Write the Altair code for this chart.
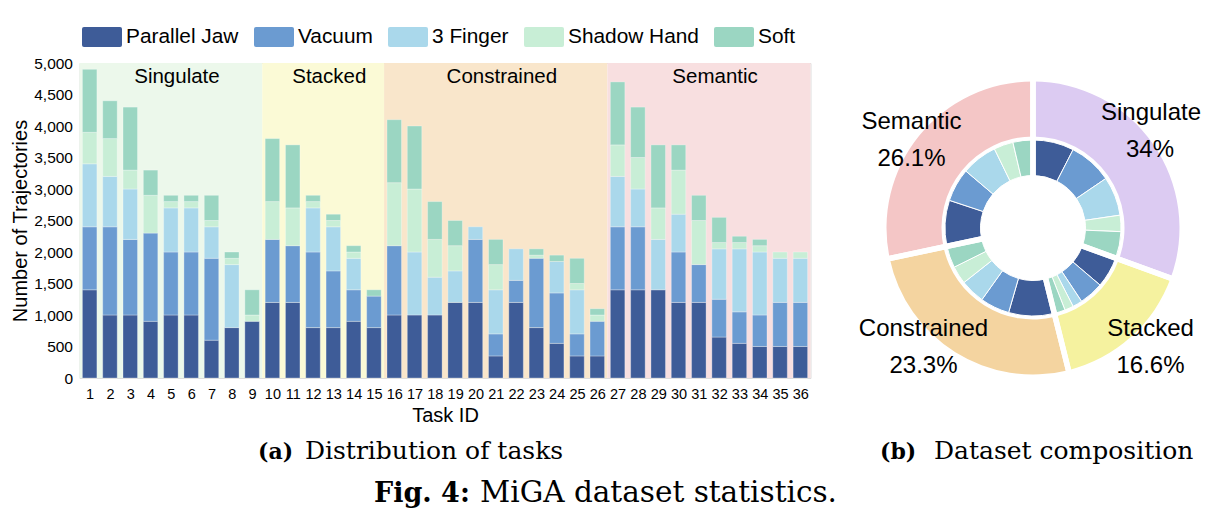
import math
import altair as alt
import pandas as pd

SANS = "Liberation Sans"
SERIF = "DejaVu Serif"

# ---------------- data ----------------
tasks = list(range(1, 37))
grippers = ["Parallel Jaw", "Vacuum", "3 Finger", "Shadow Hand", "Soft"]
gripper_colors = ["#3e5c98", "#6b9bd1", "#aad8eb", "#c8eed6", "#9bd6c2"]

parallel_jaw = [1400, 1000, 1000, 900, 1000, 1000, 600, 800, 900,
                1200, 1200, 800, 800, 900, 800,
                1000, 1000, 1000, 1200, 1200, 350, 1200, 800, 550, 350, 350,
                1400, 1400, 1400, 1200, 1200, 650, 550, 500, 500, 500]
vacuum = [1000, 1400, 1200, 1400, 1000, 1000, 1300, 0, 0,
          1000, 900, 1200, 900, 500, 500,
          1100, 0, 0, 0, 1000, 350, 350, 1100, 800, 350, 550,
          1000, 1000, 0, 800, 600, 600, 500, 500, 700, 700]
three_finger = [1000, 800, 800, 0, 700, 700, 500, 1000, 0,
                0, 0, 700, 700, 500, 0,
                0, 1000, 600, 500, 200, 700, 500, 0, 500, 700, 0,
                800, 600, 800, 600, 0, 800, 1000, 1000, 700, 700]
shadow_hand = [500, 600, 300, 600, 100, 100, 100, 100, 100,
               600, 600, 100, 100, 100, 0,
               1000, 1000, 600, 400, 0, 400, 0, 50, 0, 100, 100,
               500, 500, 500, 700, 700, 100, 100, 100, 100, 100]
soft = [1000, 600, 1000, 400, 100, 100, 400, 100, 400,
        1000, 1000, 100, 100, 100, 100,
        1000, 1000, 600, 400, 0, 400, 0, 100, 100, 400, 100,
        1000, 800, 1000, 400, 400, 400, 100, 100, 0, 0]

categories = ["Singulate", "Stacked", "Constrained", "Semantic"]
category_first_task = [1, 10, 16, 27]
category_last_task = [9, 15, 26, 36]
category_band_colors = ["#ecf8eb", "#fbfad6", "#f9e6cb", "#f8dfe0"]
category_ring_colors = ["#dccbf2", "#f5f29f", "#f4d4a0", "#f4c6c6"]
category_share_labels = ["34%", "16.6%", "23.3%", "26.1%"]

# donut slices as drawn (degrees)
ring_outer_deg = [110, 56, 92, 102]
ring_inner_deg = [
    [27.1, 28.7, 25.8, 10.8, 17.6],   # Singulate
    [20.4, 16.1, 6.4, 5.8, 7.3],      # Stacked
    [30.1, 19.4, 16.2, 11.9, 14.4],   # Constrained
    [30.3, 22.0, 23.7, 12.8, 13.2],   # Semantic
]

# ---------------- tables ----------------
series = [parallel_jaw, vacuum, three_finger, shadow_hand, soft]
bar_rows = []
for gi, (g, vals) in enumerate(zip(grippers, series)):
    for t, v in zip(tasks, vals):
        bar_rows.append({"task": t, "gripper": g, "gi": gi, "value": v})
bars_df = pd.DataFrame(bar_rows)

cat_df = pd.DataFrame({
    "category": categories,
    "first": category_first_task,
    "last": category_last_task,
    "bg": category_band_colors,
})

outer_df = pd.DataFrame({
    "category": categories,
    "k": list(range(len(categories))),
    "deg": ring_outer_deg,
    "fill": category_ring_colors,
})

inner_rows = []
k = 0
for ci, c in enumerate(categories):
    for gi, g in enumerate(grippers):
        inner_rows.append({"category": c, "gripper": g, "k": k,
                           "deg": ring_inner_deg[ci][gi], "fill": gripper_colors[gi]})
        k += 1
inner_df = pd.DataFrame(inner_rows)

# ---------------- layout ----------------
LEFT, TOP = 79.5, 63
PLOT_W, PLOT_H = 731, 315
TOTAL_W, TOTAL_H = 1225, 520
CX, CY = 1033 - LEFT, 228 - TOP

x_scale = alt.Scale(domain=[0.5, 36.5], nice=False, zero=False, padding=0)
x_axis = alt.Axis(values=tasks, format="d", title="Task ID",
                  labelFont=SANS, labelFontSize=14.5, labelColor="black",
                  titleFont=SANS, titleFontSize=20, titleFontWeight="normal", titleColor="black",
                  ticks=False, domain=False, grid=False, labelPadding=9, titlePadding=5,
                  labelFlush=False, labelOverlap=False)
y_axis = alt.Axis(values=list(range(0, 5001, 500)), format=",d", title="Number of Trajectories",
                  labelFont=SANS, labelFontSize=15.5, labelColor="black",
                  titleFont=SANS, titleFontSize=20, titleFontWeight="normal", titleColor="black",
                  ticks=False, domain=False, grid=False, labelPadding=7, titlePadding=3,
                  labelFlush=False, labelOverlap=False)
y_scale = alt.Scale(domain=[0, 5000], nice=False, padding=0)
theta_scale = alt.Scale(domain=[0, 360])

RECT_PATH = ("M-0.9,-0.5H0.9Q1,-0.5 1,-0.4V0.4Q1,0.5 0.9,0.5H-0.9"
             "Q-1,0.5 -1,0.4V-0.4Q-1,-0.5 -0.9,-0.5Z")

background = alt.Chart(cat_df).transform_calculate(
    lo="datum.first - 0.5", hi="datum.last + 0.5"
).mark_rect().encode(
    x=alt.X("lo:Q", scale=x_scale, axis=x_axis),
    x2="hi:Q",
    y=alt.value(0),
    y2=alt.value(PLOT_H),
    fill=alt.Fill("bg:N", scale=None),
)

band_text = alt.Chart(cat_df).transform_calculate(
    mid="(datum.first + datum.last) / 2 + 0.3"
).mark_text(font=SANS, fontSize=20.5, baseline="middle", color="black").encode(
    x=alt.X("mid:Q", scale=x_scale, axis=x_axis),
    y=alt.value(14),
    text="category:N",
)

bars = alt.Chart(bars_df).transform_filter("datum.value > 0").mark_bar(
    size=14.5, stroke="white", strokeWidth=0.6, strokeOpacity=0.5
).encode(
    x=alt.X("task:Q", scale=x_scale, axis=x_axis),
    y=alt.Y("value:Q", stack="zero", scale=y_scale, axis=y_axis),
    color=alt.Color("gripper:N", scale=alt.Scale(domain=grippers, range=gripper_colors),
                    legend=alt.Legend(orient="none", legendX=2.5, legendY=-46,
                                      direction="horizontal", title=None,
                                      symbolType=RECT_PATH, symbolSize=1600,
                                      symbolStrokeWidth=0, symbolOpacity=1,
                                      labelFont=SANS, labelFontSize=20.85, labelColor="black",
                                      columnPadding=15, labelOffset=4, labelLimit=300)),
    order=alt.Order("gi:Q", sort="ascending"),
)

inner_ring = alt.Chart(inner_df).mark_arc(
    radius=88, radius2=52.5, stroke="white", strokeWidth=1
).encode(
    theta=alt.Theta("deg:Q", stack=True, scale=theta_scale),
    order=alt.Order("k:Q", sort="ascending"),
    detail="k:N",
    fill=alt.Fill("fill:N", scale=None),
    x=alt.value(CX), y=alt.value(CY),
)

outer_ring = alt.Chart(outer_df).mark_arc(
    radius=146.5, radius2=91.5, strokeWidth=0
).encode(
    theta=alt.Theta("deg:Q", stack=True, scale=theta_scale),
    order=alt.Order("k:Q", sort="ascending"),
    detail="k:N",
    fill=alt.Fill("fill:N", scale=None),
    x=alt.value(CX), y=alt.value(CY),
)

separators = alt.Chart(outer_df).mark_arc(
    radius=153, radius2=47, fillOpacity=0, stroke="white", strokeWidth=5.5
).encode(
    theta=alt.Theta("deg:Q", stack=True, scale=theta_scale),
    order=alt.Order("k:Q", sort="ascending"),
    detail="k:N",
    x=alt.value(CX), y=alt.value(CY),
)


def label(text, x, y, size, weight="normal", font=SANS, align="center"):
    return alt.Chart(pd.DataFrame({"t": [text]})).mark_text(
        font=font, fontSize=size, fontWeight=weight, align=align,
        baseline="alphabetic", color="black"
    ).encode(text="t:N", x=alt.value(x - LEFT), y=alt.value(y - TOP))


ring_labels = [
    label(categories[0], 1151, 119.5, 24), label(category_share_labels[0], 1150, 156.5, 24),
    label(categories[1], 1150.5, 335.5, 24), label(category_share_labels[1], 1150.5, 372.5, 24),
    label(categories[2], 923.5, 335.5, 24), label(category_share_labels[2], 923.5, 372.5, 24),
    label(categories[3], 911.5, 128.5, 24), label(category_share_labels[3], 911.5, 166, 24),
]

captions = [
    label("(a)", 258, 459, 22, "bold", SERIF, "left"),
    label("Distribution of tasks", 305, 459, 25, "normal", SERIF, "left"),
    label("(b)", 880, 459, 22, "bold", SERIF, "left"),
    label("Dataset composition", 934, 459, 25, "normal", SERIF, "left"),
    label("Fig. 4:", 374, 502, 27, "bold", SERIF, "left"),
    label("MiGA dataset statistics.", 480, 502, 29.5, "normal", SERIF, "left"),
]

chart = alt.layer(
    background, band_text, bars, inner_ring, outer_ring, separators,
    *ring_labels, *captions
).properties(
    width=PLOT_W, height=PLOT_H,
    padding={"left": LEFT, "top": TOP, "right": TOTAL_W - LEFT - PLOT_W,
             "bottom": TOTAL_H - TOP - PLOT_H},
    autosize=alt.AutoSizeParams(type="none"),
).configure_view(stroke=None).configure(background="white")

chart.save("out.html", embed_options={"renderer": "svg", "actions": False})
